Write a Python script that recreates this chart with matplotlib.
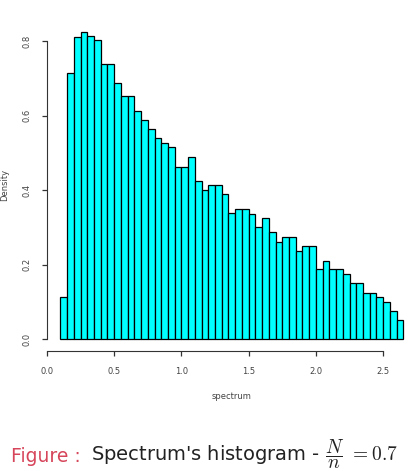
import numpy as np
import matplotlib
matplotlib.use("Agg")
import matplotlib.pyplot as plt

# histogram of the spectrum, bins of width 0.05 starting at 0.1
bin_edges = np.linspace(0.10, 2.65, 52)
density = [0.112, 0.714, 0.811, 0.825, 0.814, 0.803, 0.737, 0.737, 0.688, 0.653,
           0.653, 0.613, 0.588, 0.563, 0.539, 0.527, 0.515, 0.463, 0.463, 0.488,
           0.425, 0.400, 0.413, 0.413, 0.388, 0.337, 0.349, 0.349, 0.336, 0.300,
           0.324, 0.288, 0.261, 0.275, 0.275, 0.237, 0.250, 0.250, 0.187, 0.210,
           0.187, 0.187, 0.174, 0.150, 0.150, 0.124, 0.124, 0.112, 0.100, 0.075,
           0.051]
x_ticks = [0.0, 0.5, 1.0, 1.5, 2.0, 2.5]
y_ticks = [0.0, 0.2, 0.4, 0.6, 0.8]

plt.rcParams["mathtext.fontset"] = "cm"

W, H = 409, 471
fig = plt.figure(figsize=(W / 100, H / 100), dpi=100)

# R-like plot region (xlim/ylim padded by 4%)
ax = fig.add_axes([46.7 / W, 1 - 351.3 / H, 370.3 / W, 331.9 / H])
ax.bar(bin_edges[:-1], density, width=0.05, align="edge",
       color="#00ffff", edgecolor="black", linewidth=0.9)
ax.set_xlim(-0.002, 2.752)
ax.set_ylim(-0.033, 0.858)

for s in ["top", "right"]:
    ax.spines[s].set_visible(False)
ax.spines["bottom"].set_bounds(0, 2.5)
ax.spines["left"].set_bounds(0, 0.8)
ax.spines["bottom"].set_color("#333333")
ax.spines["left"].set_color("#333333")

ax.set_xticks(x_ticks)
ax.set_xticklabels([f"{v:.1f}" for v in x_ticks])
ax.set_yticks(y_ticks)
ax.set_yticklabels([f"{v:.1f}" for v in y_ticks], rotation=90, va="center")
ax.tick_params(axis="both", length=3.6, width=0.9, color="#333333",
               labelsize=6, labelcolor="#444444")
ax.tick_params(axis="x", pad=8)
ax.tick_params(axis="y", pad=7)

fig.text(232 / W, 1 - 396.7 / H, "spectrum", ha="center", va="center",
         fontsize=6, color="#444444")
fig.text(5 / W, 1 - 185 / H, "Density", ha="center", va="center",
         rotation=90, fontsize=6, color="#444444")

# caption in beamer style
fig.text(11 / W, 1 - 462 / H, "Figure :", ha="left", va="baseline",
         fontsize=13.5, color="#d6455a")
fig.text(91 / W, 1 - 462 / H, r"Spectrum's histogram - $\dfrac{N}{n}$ $= 0.7$",
         ha="left", va="baseline", fontsize=14, color="#222222")

fig.savefig("out.png", dpi=100)
